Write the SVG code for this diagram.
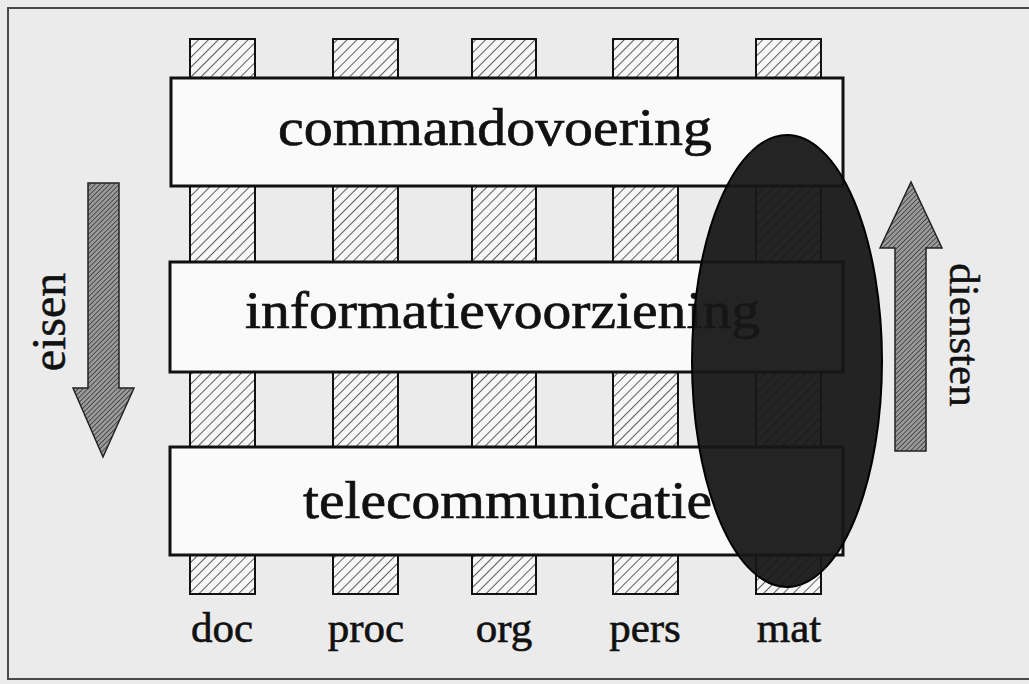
<svg xmlns="http://www.w3.org/2000/svg" width="1029" height="684" viewBox="0 0 1029 684">
  <defs>
    <pattern id="hatch" width="7" height="7" patternUnits="userSpaceOnUse" patternTransform="rotate(45)">
      <rect width="7" height="7" fill="#f7f7f7"/>
      <line x1="0" y1="0" x2="0" y2="7" stroke="#2a2a2a" stroke-width="1.5"/>
    </pattern>
    <pattern id="hatchDense" width="3.4" height="3.4" patternUnits="userSpaceOnUse" patternTransform="rotate(45)">
      <rect width="3.4" height="3.4" fill="#9a9a9a"/>
      <line x1="0" y1="0" x2="0" y2="3.4" stroke="#333" stroke-width="1.5"/>
    </pattern>
    <style>
      .bg { fill: #ebebeb; }
      .frame { fill: none; stroke: #4a4a4a; stroke-width: 2; }
      .col { fill: url(#hatch); stroke: #111; stroke-width: 2; }
      .box { fill: #fafafa; stroke: #111; stroke-width: 3; }
      .big { font-family: "Liberation Serif", "Times New Roman", serif; font-size: 53px; fill: #111; stroke: #111; stroke-width: 0.7; }
      .lbl { font-family: "Liberation Serif", "Times New Roman", serif; font-size: 43px; fill: #111; stroke: #111; stroke-width: 0.6; text-anchor: middle; }
      .side { font-family: "Liberation Serif", "Times New Roman", serif; fill: #111; stroke: #111; stroke-width: 0.5; text-anchor: middle; }
      .arrow { fill: url(#hatchDense); stroke: #222; stroke-width: 1.5; }
      .blob { fill: #161616; fill-opacity: 0.94; stroke: #000; stroke-width: 2; }
    </style>
  </defs>

  <rect class="bg" x="0" y="0" width="1029" height="684"/>
  <rect class="frame" x="8" y="8" width="1040" height="671"/>

  <g id="columns">
    <g id="col-doc"><rect class="col" x="190" y="39" width="65" height="555"/></g>
    <g id="col-proc"><rect class="col" x="333" y="39" width="65" height="555"/></g>
    <g id="col-org"><rect class="col" x="472" y="39" width="64" height="555"/></g>
    <g id="col-pers"><rect class="col" x="613" y="39" width="65" height="555"/></g>
    <g id="col-mat"><rect class="col" x="756" y="39" width="65" height="555"/></g>
  </g>

  <g id="box-commandovoering">
    <rect class="box" x="171" y="78" width="672" height="108"/>
    <text class="big" x="278" y="145" textLength="434" lengthAdjust="spacingAndGlyphs">commandovoering</text>
  </g>
  <g id="box-informatievoorziening">
    <rect class="box" x="170" y="262" width="673" height="110"/>
    <text class="big" x="245" y="328" textLength="515" lengthAdjust="spacingAndGlyphs">informatievoorziening</text>
  </g>
  <g id="box-telecommunicatie">
    <rect class="box" x="170" y="447" width="673" height="108"/>
    <text class="big" x="303" y="518" textLength="409" lengthAdjust="spacingAndGlyphs">telecommunicatie</text>
  </g>

  <g id="labels">
    <text class="lbl" x="222" y="642">doc</text>
    <text class="lbl" x="366" y="642">proc</text>
    <text class="lbl" x="504" y="642">org</text>
    <text class="lbl" x="645" y="642">pers</text>
    <text class="lbl" x="789" y="642">mat</text>
  </g>

  <g id="ellipse-mat">
    <ellipse class="blob" cx="787" cy="361" rx="95" ry="226"/>
  </g>

  <g id="connectors">
    <g id="arrow-eisen">
      <polygon class="arrow" points="88,183 119,183 119,388 134,388 103,457 73,388 88,388"/>
      <text class="side" font-size="48" transform="translate(65,322) rotate(-90)">eisen</text>
    </g>
    <g id="arrow-diensten">
      <polygon class="arrow" points="895,451 926,451 926,248 942,248 911,182 880,248 895,248"/>
      <text class="side" font-size="43" transform="translate(950,335) rotate(90)">diensten</text>
    </g>
  </g>
</svg>
